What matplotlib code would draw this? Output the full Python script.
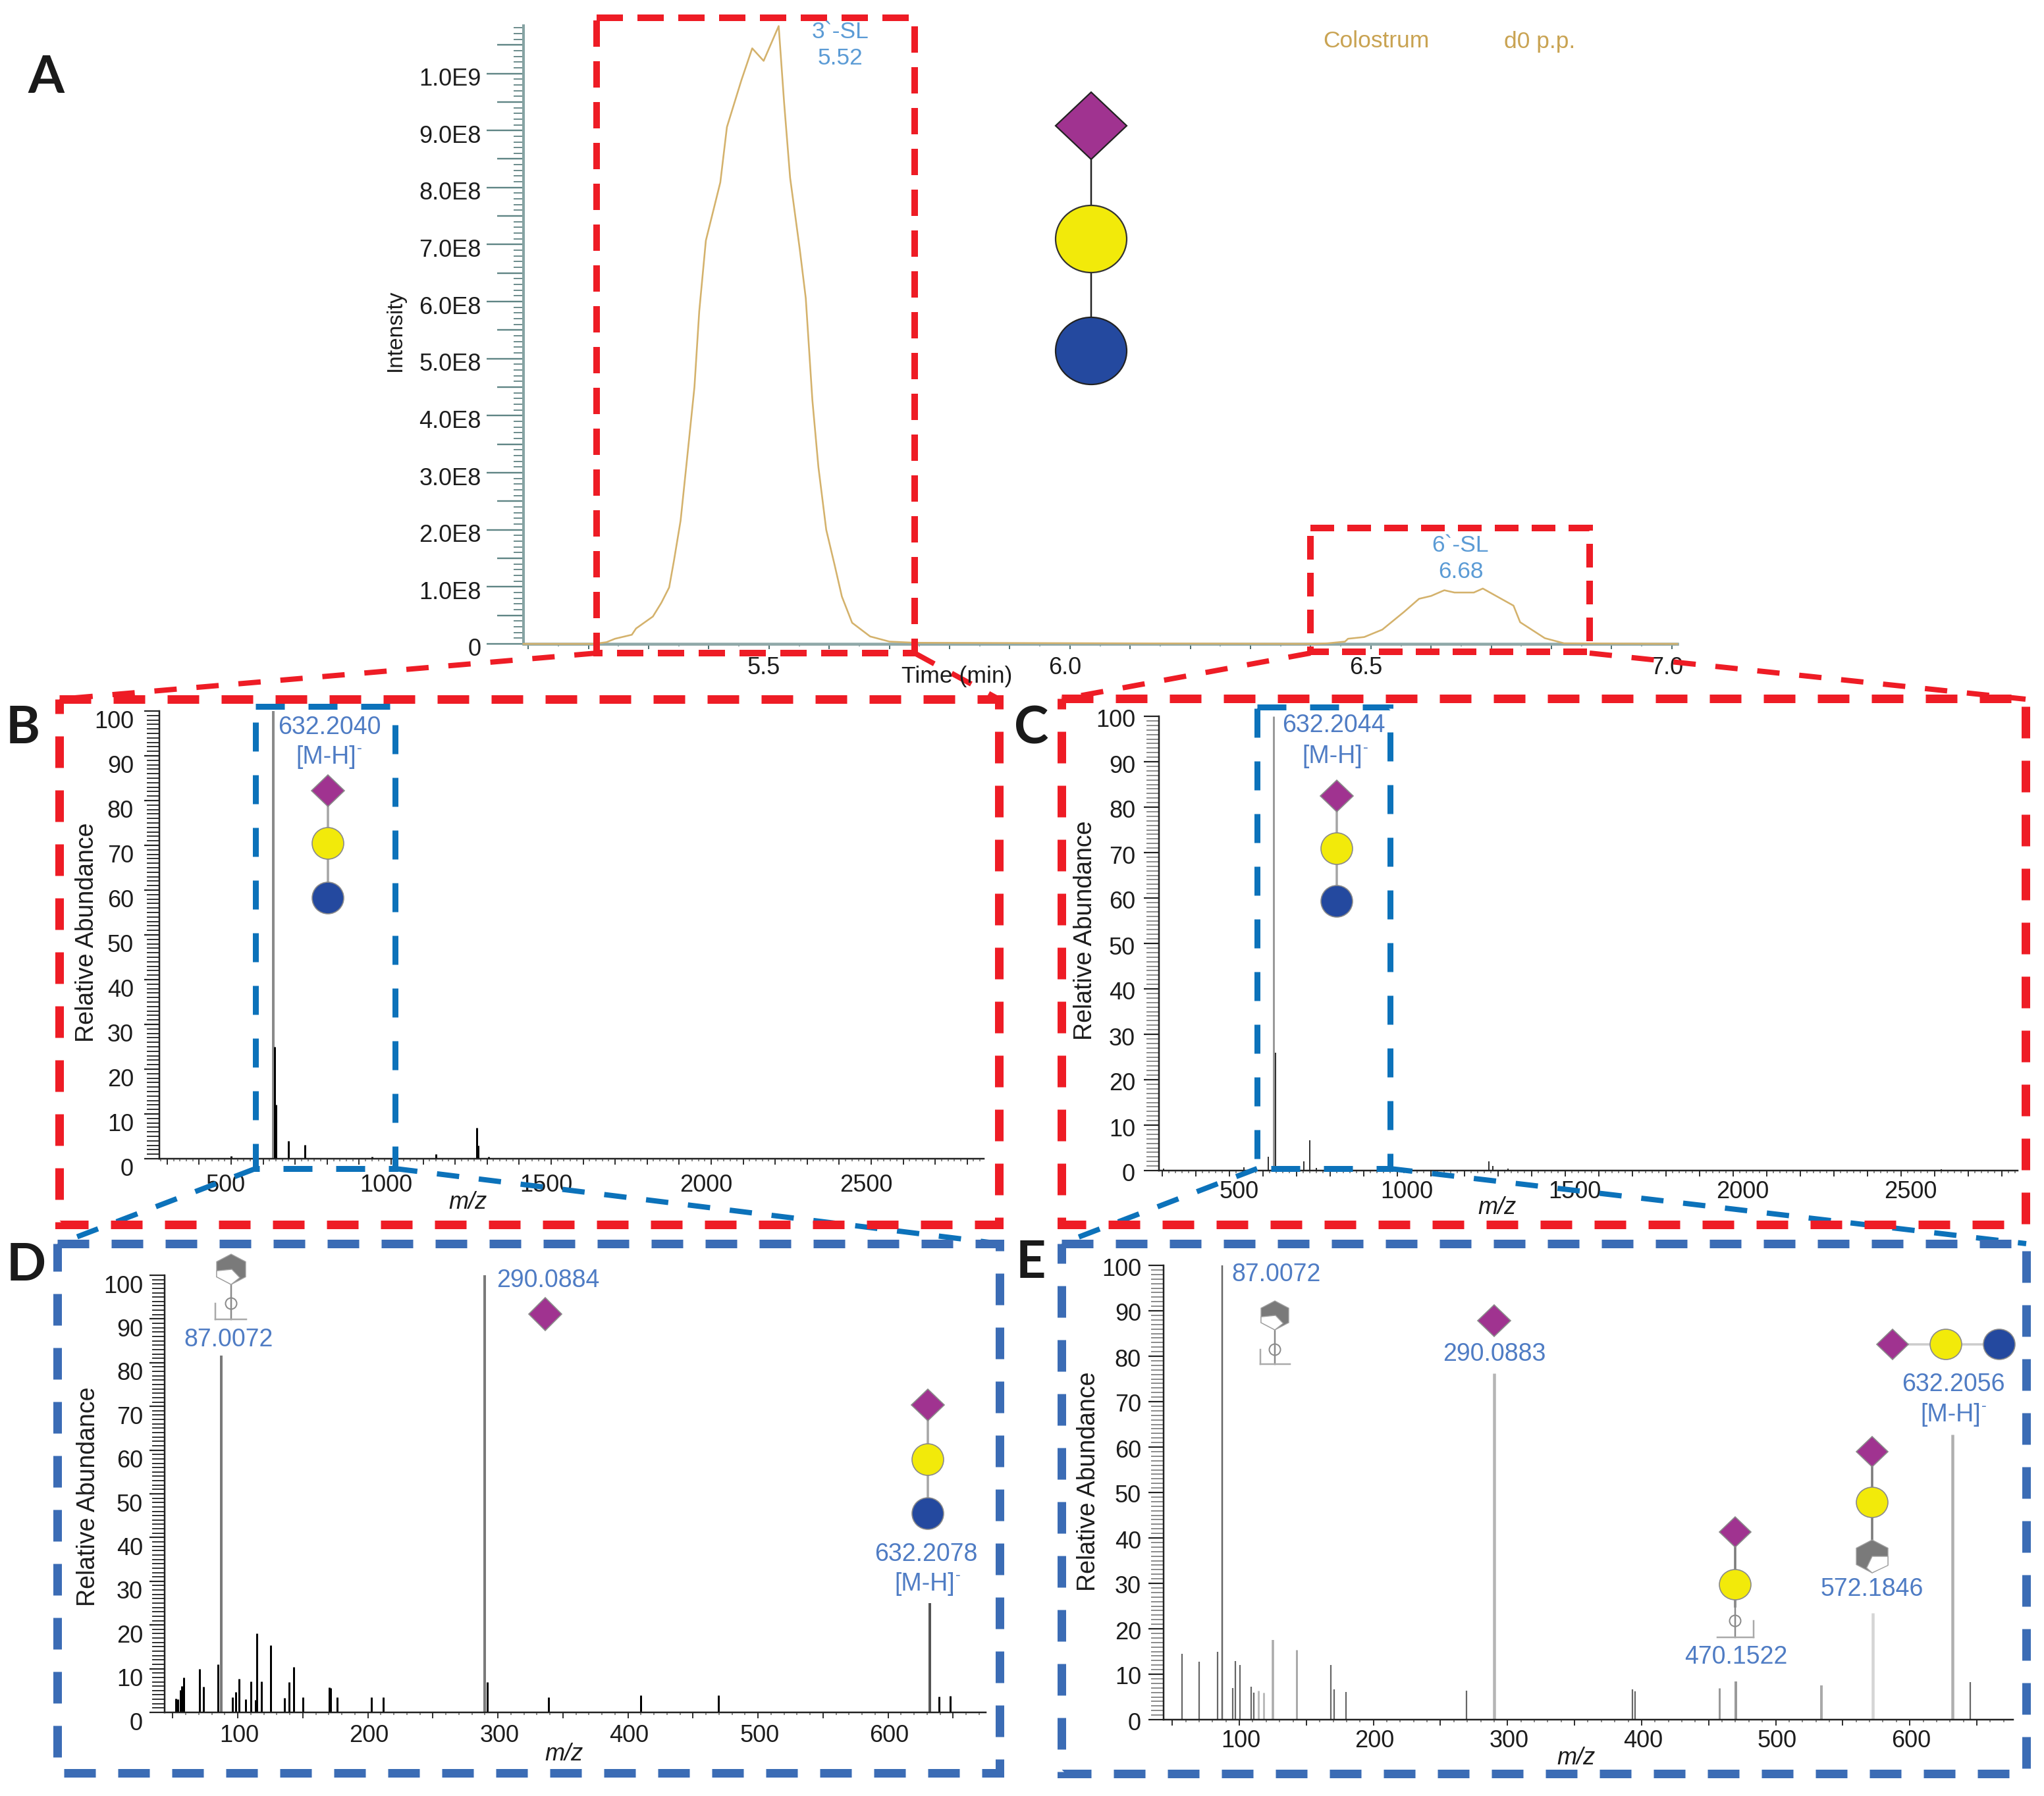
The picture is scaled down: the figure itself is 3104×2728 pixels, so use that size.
import matplotlib
matplotlib.use("Agg")
import matplotlib.pyplot as plt
from matplotlib.lines import Line2D
from matplotlib.patches import Ellipse, Polygon, Circle
from matplotlib.transforms import ScaledTranslation

plt.rcParams['font.family'] = ['Liberation Sans', 'DejaVu Sans']

# ---------------- data ----------------
# Panel A: extracted ion chromatogram (time in min, intensity in units of 1E8)
a_time = [5.092, 5.209, 5.230, 5.244, 5.272, 5.279, 5.307, 5.321, 5.334, 5.342, 5.353, 5.363, 5.376,
          5.384, 5.395, 5.419, 5.430, 5.454, 5.472, 5.491, 5.516, 5.525, 5.535, 5.551, 5.561, 5.572,
          5.582, 5.595, 5.609, 5.621, 5.638, 5.668, 5.700, 5.742, 6.406, 6.428, 6.457, 6.462, 6.489,
          6.519, 6.555, 6.580, 6.600, 6.622, 6.639, 6.671, 6.686, 6.737, 6.748, 6.789, 6.821, 7.009]
a_intensity = [0, 0, 0.03, 0.09, 0.16, 0.27, 0.48, 0.72, 0.99, 1.46, 2.16, 3.17, 4.5,
               5.83, 7.07, 8.09, 9.06, 9.88, 10.44, 10.22, 10.83, 9.49, 8.17, 6.92, 6.06, 4.27,
               3.10, 2.0, 1.38, 0.83, 0.37, 0.13, 0.04, 0.02, 0, 0.01, 0.04, 0.09, 0.12,
               0.25, 0.56, 0.79, 0.84, 0.94, 0.90, 0.90, 0.97, 0.67, 0.38, 0.10, 0.01, 0]
a_ylabels = ['0', '1.0E8', '2.0E8', '3.0E8', '4.0E8', '5.0E8', '6.0E8', '7.0E8', '8.0E8', '9.0E8', '1.0E9']

# Panel B: full MS spectrum
b_mz = [500, 632, 636, 640, 678, 730, 940, 1140, 1268, 1272, 1305]
b_ab = [0.6, 100, 25, 12, 3.9, 3.1, 0.4, 1.0, 6.9, 3.0, 0.4]

# Panel C: full MS spectrum
c_mz = [305, 400, 543, 616, 632, 638, 722, 741, 760, 1273, 1285, 1330, 1700, 1780, 2240, 2620]
c_ab = [0.4, 0.2, 0.7, 3.0, 100, 26, 2.0, 6.7, 0.6, 2.0, 1.0, 0.4, 0.2, 0.2, 0.2, 0.3]

# Panel D: MS/MS spectrum
d_mz = [52.5, 54, 55.7, 57, 58.6, 70.3, 73.5, 84.9, 87, 95.6, 98.5, 100.8, 106, 109.8, 113.4, 114.7,
        118.3, 125.4, 135.8, 139.4, 142.9, 150, 170.1, 171.5, 176.3, 202.9, 212, 290, 292, 339, 409.7,
        469.5, 632, 639, 648]
d_ab = [3.1, 3.0, 5.1, 6.0, 8, 10, 5.9, 11, 81.7, 3.5, 4.7, 7.7, 3, 7.1, 2.8, 18,
        7.1, 15.4, 3.3, 6.9, 10.4, 3.5, 5.7, 5.5, 3.5, 3.4, 3.4, 100, 6.9, 3.4, 3.9,
        3.9, 25, 3.6, 3.8]

# Panel E: MS/MS spectrum
e_mz = [57.4, 70.2, 83.7, 87, 95.3, 96.9, 100.3, 108.8, 110.7, 114.1, 117.9, 124.8, 142.6, 168.3, 170.5,
        179.3, 269.5, 290, 393.3, 395, 458, 470.4, 534, 572.5, 632, 645]
e_ab = [14.5, 12.7, 14.9, 100, 7, 12.9, 12.1, 7.2, 5.9, 6.4, 5.9, 17.6, 15.4, 12.1, 6.7,
        6.1, 6.4, 76.3, 6.7, 6.2, 6.9, 8.4, 7.5, 23.5, 62.7, 8.2]

y_percent_ticks = list(range(0, 101, 10))

# ---------------- helpers ----------------
W, H = 3104, 2728
fig = plt.figure(figsize=(W / 100, H / 100), dpi=100, facecolor='white')


def pt(px):
    return px * 0.72


def px_axes(left, right, top, bottom):
    ax = fig.add_axes([left / W, 1 - bottom / H, (right - left) / W, (bottom - top) / H])
    ax.patch.set_visible(False)
    for side in ('top', 'right'):
        ax.spines[side].set_visible(False)
    return ax


def shift(label, dx, dy):
    label.set_transform(label.get_transform() + ScaledTranslation(dx / 100, -dy / 100, fig.dpi_scale_trans))


def spectrum(box, xlim, mz, ab, labeled, xstep, xtiny, xlab_dx, xlab_off, ylab_dy, ylab_pad,
             minor_color, styles, thin_color='black', thin_px=2.2):
    ax = px_axes(*box)
    ax.set_xlim(*xlim)
    ax.set_ylim(0, 100)
    for m, a in zip(mz, ab):
        col, w = styles.get(m, (thin_color, thin_px))
        ax.vlines(m, 0, a, color=col, lw=pt(w), clip_on=False)
    for s in ('left', 'bottom'):
        ax.spines[s].set_linewidth(pt(2.5))
        ax.spines[s].set_color('#222222')
    start = xstep * (int(xlim[0] // xstep) + 1)
    xt = []
    v = start
    while v < xlim[1]:
        xt.append(v)
        v += xstep
    ax.set_xticks(xt)
    ax.set_xticklabels([str(t) if t in labeled else '' for t in xt])
    tiny = []
    v = xtiny * (int(xlim[0] // xtiny) + 1)
    while v < xlim[1]:
        if v % xstep:
            tiny.append(v)
        v += xtiny
    ax.set_xticks(tiny, minor=True)
    ax.set_yticks(y_percent_ticks)
    ax.set_yticklabels([str(t) for t in y_percent_ticks])
    ax.set_yticks([i for i in range(101) if i % 10], minor=True)
    ax.tick_params(axis='x', which='major', length=pt(9), width=pt(2), color='#333333',
                   labelsize=26, pad=pt(xlab_off - 9), labelcolor='#1c1c1c')
    ax.tick_params(axis='x', which='minor', length=pt(3.5), width=pt(1.5), color='#666666')
    ax.tick_params(axis='y', which='major', length=pt(23), width=pt(2.2), color='#222222',
                   labelsize=26, pad=pt(ylab_pad), labelcolor='#1c1c1c')
    ax.tick_params(axis='y', which='minor', length=pt(19), width=pt(2), color=minor_color)
    for lab in ax.get_xticklabels():
        lab.set_va('center')
        shift(lab, xlab_dx, 0)
    for lab in ax.get_yticklabels():
        shift(lab, 0, ylab_dy)
    return ax


# ---------------- panel A ----------------
axA = px_axes(795, 2547, 39, 978)
axA.set_xlim(5.092, 7.009)
axA.set_ylim(0, 10.837)
axA.spines['left'].set_linewidth(pt(4))
axA.spines['left'].set_color('#86a3a3')
axA.spines['bottom'].set_linewidth(pt(4.5))
axA.spines['bottom'].set_color('#8fa8a8')
axA.plot(a_time, a_intensity, color='#d4b26c', lw=pt(2.6), clip_on=False, zorder=5)

xt = [5.1 + 0.1 * i for i in range(20)]
axA.set_xticks(xt)
axA.set_xticklabels(['5.5' if i == 4 else '6.0' if i == 9 else '6.5' if i == 14 else '7.0' if i == 19 else ''
                     for i in range(20)])
axA.set_xticks([5.15 + 0.1 * i for i in range(19)], minor=True)
axA.tick_params(axis='x', which='major', length=pt(8), width=pt(2), color='#4f7070', labelsize=26,
                pad=pt(36 - 8), labelcolor='#1c1c1c')
axA.tick_params(axis='x', which='minor', length=pt(3.5), width=pt(1.5), color='#7c9a9a')
for lab in axA.get_xticklabels():
    lab.set_va('center')
    shift(lab, -8, 0)

yt = [0.5 * i for i in range(22)]
axA.set_yticks(yt)
axA.set_yticklabels([a_ylabels[i // 2] if i % 2 == 0 else '' for i in range(22)])
axA.set_yticks([i / 10 for i in range(109) if i % 5], minor=True)
axA.tick_params(axis='y', which='major', length=pt(56), width=pt(2.4), color='#5f8585', labelsize=26,
                pad=pt(8), labelcolor='#1c1c1c')
axA.tick_params(axis='y', which='minor', length=pt(15), width=pt(1.8), color='#5f8282')
for i, tick in enumerate(axA.yaxis.get_major_ticks()):
    if i % 2:
        tick.tick1line.set_markersize(pt(40))
for lab in axA.get_yticklabels():
    shift(lab, 0, 5)

# ---------------- panels B-E ----------------
spectrum((242, 1494, 1080, 1760), (275.7, 2852), b_mz, b_ab, {500, 1000, 1500, 2000, 2500}, 100, 20,
         -8, 40, 12, 16, '#333333', {632: ('#8a8a8a', 4)}, thin_px=3)
spectrum((1760, 3064, 1088, 1778), (291, 2848), c_mz, c_ab, {500, 1000, 1500, 2000, 2500}, 100, 20,
         15, 33, 3, 13, '#8c8c8c', {632: ('#999999', 3)}, thin_color='#333333', thin_px=2)
spectrum((250, 1497, 1937, 2601), (43.7, 675.1), d_mz, d_ab, {100, 200, 300, 400, 500, 600}, 50, 10,
         2, 36, 13, 10, '#333333', {87: ('#7a7a7a', 4), 290: ('#7a7a7a', 4), 632: ('#555555', 4)}, thin_px=3)
spectrum((1767, 3057, 1922, 2612), (43.5, 677), e_mz, e_ab, {100, 200, 300, 400, 500, 600}, 50, 10,
         2, 32, 2, 11, '#8c8c8c',
         {87: ('#666666', 2.5), 290: ('#b5b5b5', 4.5), 572.5: ('#d5d5d5', 4.5), 632: ('#b0b0b0', 4.5),
          470.4: ('#9a9a9a', 4), 534: ('#aaaaaa', 4), 458: ('#9a9a9a', 3), 124.8: ('#aaaaaa', 3.5),
          142.6: ('#aaaaaa', 3), 114.1: ('#bbbbbb', 3), 117.9: ('#bbbbbb', 3)},
         thin_color='#666666', thin_px=2.2)

# ---------------- overlay: annotations in pixel space ----------------
ov = fig.add_axes([0, 0, 1, 1])
ov.set_xlim(0, W)
ov.set_ylim(H, 0)
ov.axis('off')
ov.patch.set_visible(False)

RED = '#ee1c25'
BLUE_D = '#3b6cb5'
BLUE_I = '#0c72ba'
PURPLE = '#a03390'
YELLOW = '#f2ea0a'
NAVY = '#24499f'
LBL = '#4f7cc4'
SL = '#5b9bd5'
TAN = '#c9a352'


def dashed(xs, ys, color, width, on, off, z=10):
    ov.add_line(Line2D(xs, ys, color=color, lw=pt(width), dashes=(on / width, off / width),
                       dash_capstyle='butt', dash_joinstyle='miter', zorder=z))


def box(l, r, t, b, color, width, on, off):
    dashed([l, r, r, l, l], [t, t, b, b, t], color, width, on, off)


def T(x, y, s, size=27, color='#1c1c1c', **kw):
    kw.setdefault('ha', 'center')
    kw.setdefault('va', 'center')
    ov.text(x, y, s, fontsize=size, color=color, zorder=20, **kw)


def diamond(x, y, hw, hh, edge='#8a8a8a', lw=1.2):
    ov.add_patch(Polygon([(x, y - hh), (x + hw, y), (x, y + hh), (x - hw, y)], closed=True,
                         facecolor=PURPLE, edgecolor=edge, lw=lw, zorder=14))


def ball(x, y, rx, ry, color, edge='#8a8a8a', lw=1.2):
    ov.add_patch(Ellipse((x, y), 2 * rx, 2 * ry, facecolor=color, edgecolor=edge, lw=lw, zorder=14))


def link(xs, ys, color='#a5a5a5', w=3.5):
    ov.add_line(Line2D(xs, ys, color=color, lw=pt(w), zorder=13))


def vstack(x, y1, y2, y3, link_col='#a5a5a5', rx=24, ry=24):
    link([x, x], [y1, y3], link_col)
    diamond(x, y1, rx + 1, ry)
    ball(x, y2, rx, ry, YELLOW)
    ball(x, y3, rx, ry, NAVY)


def hexagon(x, y, hw, hh, wedge):
    pts = [(x, y - hh), (x + hw, y - hh / 2), (x + hw, y + hh / 2), (x, y + hh),
           (x - hw, y + hh / 2), (x - hw, y - hh / 2)]
    ov.add_patch(Polygon(pts, closed=True, facecolor='#7a7a7a', edgecolor='#a0a0a0', lw=1, zorder=14))
    ov.add_patch(Polygon([(x + a * hw, y + b * hh) for a, b in wedge], closed=True, facecolor='white',
                         edgecolor='#a0a0a0', lw=1, zorder=15))


def ring_cut(x, y_top, y_ring, y_base, left, right, corner_x):
    link([x, x], [y_top, y_base], '#8a8a8a', 2.5)
    ov.add_patch(Circle((x, y_ring), 8.5, facecolor='none', edgecolor='#8a8a8a', lw=pt(2), zorder=15))
    link([left, right], [y_base, y_base], '#aaaaaa', 2.5)
    link([corner_x, corner_x], [y_ring, y_base], '#aaaaaa', 2.5)


# dashed connectors
dashed([906, 90], [992, 1062], RED, 8, 34, 30, 9)
dashed([1389, 1517], [992, 1062], RED, 8, 34, 30, 9)
dashed([1990, 1612], [992, 1062], RED, 8, 34, 30, 9)
dashed([2414, 3076], [992, 1062], RED, 8, 34, 30, 9)
dashed([388, 90], [1775, 1889], BLUE_I, 8, 34, 30, 9)
dashed([600, 1518], [1775, 1889], BLUE_I, 8, 34, 30, 9)
dashed([1909, 1612], [1775, 1889], BLUE_I, 8, 34, 30, 9)
dashed([2111, 3077], [1775, 1889], BLUE_I, 8, 34, 30, 9)

# dashed boxes
box(906, 1389, 27, 992, RED, 10, 40, 22)
box(1990, 2414, 802, 990, RED, 10, 36, 20)
box(90, 1517, 1062, 1860, RED, 13, 48, 34)
box(1612, 3076, 1061, 1860, RED, 13, 48, 34)
box(87, 1518, 1889, 2693, BLUE_D, 13, 48, 34)
box(1612, 3077, 1889, 2694, BLUE_D, 13, 48, 34)
box(388, 600, 1073, 1775, BLUE_I, 9, 44, 36)
box(1909, 2111, 1074, 1775, BLUE_I, 9, 44, 36)

# panel letters
for x, y, s in [(70, 119, 'A'), (35, 1107, 'B'), (1566, 1108, 'C'), (40, 1923, 'D'), (1565, 1919, 'E')]:
    T(x, y, s, size=57, color='#1a1a1a', family='Lato', fontweight='bold')

# axis titles
T(600, 502, 'Intensity', 24, rotation=90)
T(1453, 1028, 'Time (min)', 25.5)
T(132, 1416, 'Relative Abundance', 27, rotation=90)
T(1648, 1413, 'Relative Abundance', 27, rotation=90)
T(134, 2273, 'Relative Abundance', 27, rotation=90)
T(1653, 2250, 'Relative Abundance', 27, rotation=90)
T(711, 1827, 'm/z', 26, style='italic')
T(2274, 1834, 'm/z', 26, style='italic')
T(857, 2664, 'm/z', 26, style='italic')
T(2394, 2670, 'm/z', 26, style='italic')

# panel A annotations
T(2090, 63, 'Colostrum', 25.5, TAN)
T(2338, 64, 'd0 p.p.', 25.5, TAN)
T(1276, 48, "3`-SL", 25.5, SL)
T(1276, 88, '5.52', 25.5, SL)
T(2217, 828, "6`-SL", 25.5, SL)
T(2218, 868, '6.68', 25.5, SL)
link([1657, 1657], [190, 490], '#222222', 2.5)
diamond(1657, 191, 54, 51, '#222222', 1.6)
ball(1657, 363, 54, 51, YELLOW, '#333333', 1.6)
ball(1657, 533, 54, 51, NAVY, '#222222', 1.6)

# peak labels
for x, y, s in [(500, 1105, '632.2040'), (2025, 1102, '632.2044'), (347, 2035, '87.0072'), (832, 1945, '290.0884'),
                (1406, 2361, '632.2078'), (1938, 1936, '87.0072'), (2269, 2057, '290.0883'), (2636, 2517, '470.1522'),
                (2843, 2414, '572.1846'), (2966, 2103, '632.2056')]:
    T(x, y, s, 27, LBL)
for x, y in [(498, 1150), (2026, 1149), (1407, 2406), (2965, 2149)]:
    T(x - 3, y, '[M-H]', 27, LBL)
    T(x + 48, y - 13, '-', 17, LBL)

# glycan cartoons
vstack(498, 1201, 1281, 1364)
vstack(2030, 1209, 1289, 1369)
vstack(1409, 2134, 2217, 2299)
link([2874, 3036], [2042, 2042], '#cccccc')
diamond(2874, 2042, 24, 23)
ball(2955, 2042, 24, 23, YELLOW)
ball(3036, 2042, 24, 23, NAVY)

diamond(828, 1996, 25, 25)
diamond(2269, 2006, 25, 24)

link([2843, 2843], [2205, 2340], '#7a7a7a')
diamond(2843, 2205, 24, 23)
ball(2843, 2282, 24, 23, YELLOW)
hexagon(2843, 2364, 24, 25, [(1, 0), (1, 0.55), (0, 1), (-0.35, 0.7), (0, 0)])

link([2635, 2635], [2327, 2440], '#7a7a7a')
diamond(2635, 2327, 24, 23)
ball(2635, 2407, 24, 23, YELLOW)
ring_cut(2635, 2430, 2462, 2487, 2608, 2663, 2663)

LEFT_WEDGE = [(-1, 0.1), (0.05, 0.0), (0.6, 0.55), (0, 1), (-1, 0.5)]
hexagon(351, 1928, 22, 23, LEFT_WEDGE)
ring_cut(351, 1951, 1980, 2004, 327, 374, 327)
hexagon(1936, 1998, 21, 22, LEFT_WEDGE)
ring_cut(1936, 2020, 2050, 2072, 1914, 1959, 1914)

fig.savefig('out.png', dpi=100, facecolor='white')
